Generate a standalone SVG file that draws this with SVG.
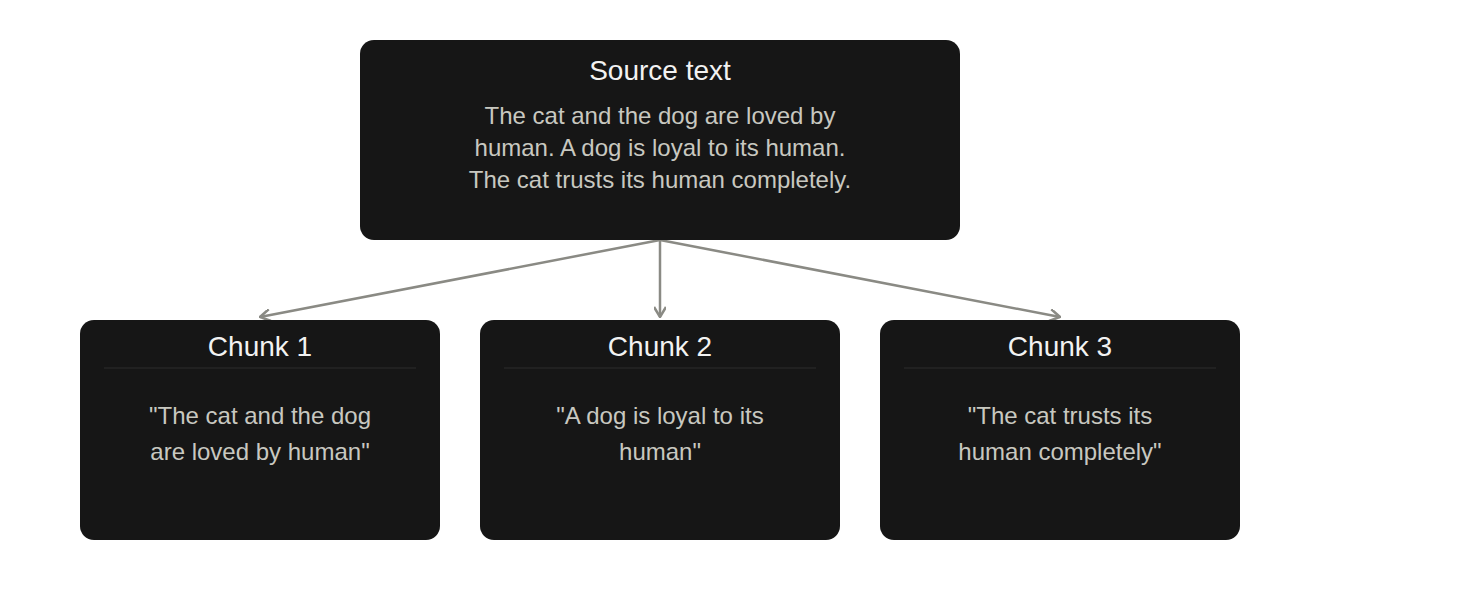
<svg xmlns="http://www.w3.org/2000/svg" width="1472" height="600" viewBox="0 0 1472 600">
<style>
.box{fill:#161616}
.title{font-family:"Liberation Sans",Arial,sans-serif;font-size:28px;fill:#f2f2f2;text-anchor:middle}
.body{font-family:"Liberation Sans",Arial,sans-serif;font-size:24px;fill:#c8c8c0;text-anchor:middle}
.sep{stroke:#262626;stroke-width:1.5}
.conn{stroke:#8a8a84;stroke-width:2.5;fill:none}
</style>
<defs>
<marker id="arr" viewBox="0 0 12 12" refX="11" refY="6" markerWidth="12" markerHeight="12" markerUnits="userSpaceOnUse" orient="auto">
<path d="M1 0 L11 6 L1 12" fill="none" stroke="#8a8a84" stroke-width="2.5"/>
</marker>
</defs>
<rect width="1472" height="600" fill="#fff"/>
<g id="connectors">
<line class="conn" x1="660" y1="240" x2="260" y2="317" marker-end="url(#arr)"/>
<line class="conn" x1="660" y1="240" x2="660" y2="317" marker-end="url(#arr)"/>
<line class="conn" x1="660" y1="240" x2="1060" y2="317" marker-end="url(#arr)"/>
</g>
<g id="source">
<rect class="box" x="360" y="40" width="600" height="200" rx="14"/>
<text class="title" x="660" y="80">Source text</text>
<text class="body" x="660" y="124">The cat and the dog are loved by</text>
<text class="body" x="660" y="156">human. A dog is loyal to its human.</text>
<text class="body" x="660" y="188">The cat trusts its human completely.</text>
</g>
<g id="chunk1">
<rect class="box" x="80" y="320" width="360" height="220" rx="14"/>
<text class="title" x="260" y="356">Chunk 1</text>
<line class="sep" x1="104" y1="368" x2="416" y2="368"/>
<text class="body" x="260" y="424">"The cat and the dog</text>
<text class="body" x="260" y="460">are loved by human"</text>
</g>
<g id="chunk2">
<rect class="box" x="480" y="320" width="360" height="220" rx="14"/>
<text class="title" x="660" y="356">Chunk 2</text>
<line class="sep" x1="504" y1="368" x2="816" y2="368"/>
<text class="body" x="660" y="424">"A dog is loyal to its</text>
<text class="body" x="660" y="460">human"</text>
</g>
<g id="chunk3">
<rect class="box" x="880" y="320" width="360" height="220" rx="14"/>
<text class="title" x="1060" y="356">Chunk 3</text>
<line class="sep" x1="904" y1="368" x2="1216" y2="368"/>
<text class="body" x="1060" y="424">"The cat trusts its</text>
<text class="body" x="1060" y="460">human completely"</text>
</g>
</svg>
